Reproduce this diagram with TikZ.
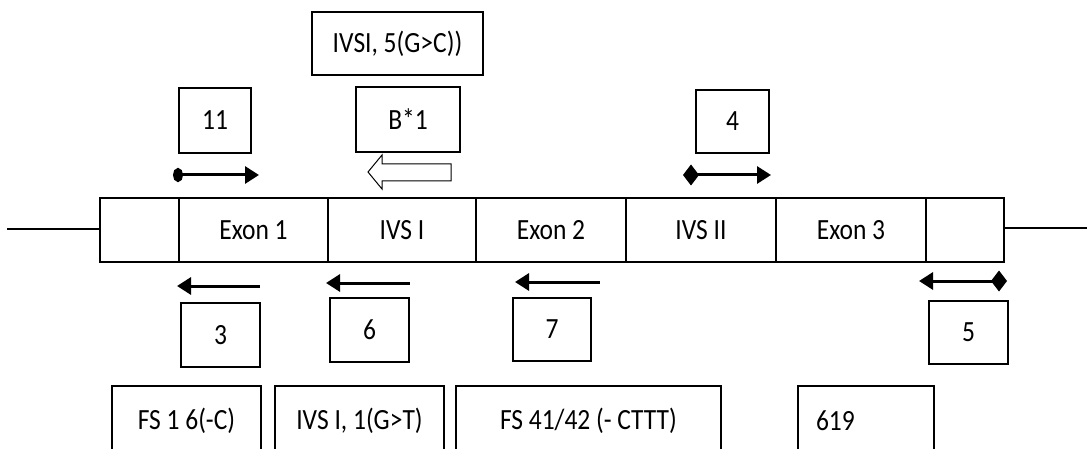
\documentclass[tikz,border=0pt]{standalone}
\usepackage{fontspec}
\setmainfont{Carlito}
\usetikzlibrary{arrows.meta}
\newcommand\lbfont{\fontsize{25.5}{30}\selectfont}
\newcommand\TT[1]{\scalebox{1}[1.15]{#1}}
\tikzset{
  boxn/.style={draw, line width=1.7pt, inner sep=0pt, font=\lbfont},
  seg/.style={draw, line width=1.9pt, inner sep=0pt, minimum height=64pt, font=\lbfont},
  arr/.style={line width=3pt},
}
\begin{document}
\begin{tikzpicture}[x=1pt,y=-1pt]
\useasboundingbox (0,0) rectangle (1087,449);
\clip (0,0) rectangle (1087,449);
% band segments
\node[seg, minimum width=79pt]  (s0) at (139.5,230) {};
\node[seg, minimum width=149pt] (e1) at (253.5,230) {\TT{Exon 1}};
\node[seg, minimum width=148pt] (i1) at (402,230) {\TT{IVS I}};
\node[seg, minimum width=150pt] (e2) at (551,230) {\TT{Exon 2}};
\node[seg, minimum width=150pt] (i2) at (701,230) {\TT{IVS II}};
\node[seg, minimum width=150pt] (e3) at (851,230) {\TT{Exon 3}};
\node[seg, minimum width=78pt]  (s6) at (965,230) {};
\coordinate (lend) at (7,229);
\coordinate (rend) at (1087,228);
\draw[line width=1.5pt] (lend) -- (lend -| s0.west);
\draw[line width=1.5pt] (rend -| s6.east) -- (rend);
% top boxes
\node[boxn, minimum width=171pt, minimum height=63pt] (tivs) at (397.5,43.5) {\TT{IVSI, 5(G>C))}};
\node[boxn, minimum width=72pt, minimum height=65pt] (b11) at (215,120.5) {\TT{11}};
\node[boxn, minimum width=104pt, minimum height=65pt] (bB) at (408,119.5) {\TT{B*1}};
\node[boxn, minimum width=73pt, minimum height=63pt] (b4) at (732.5,121.5) {\TT{4}};
% top arrows
\coordinate (a11s) at (173,175); \coordinate (a11e) at (259,175);
\draw[arr, {Ellipse[length=10pt,width=14pt]}-{Triangle[length=14pt,width=17pt]}] (a11s) -- (a11e);
\coordinate (a4s) at (683,175); \coordinate (a4e) at (771,175);
\draw[arr, {Diamond[length=16pt,width=21pt]}-{Triangle[length=14pt,width=17pt]}] (a4s) -- (a4e);
% hollow arrow
\draw[line width=1pt, fill=white] (451,164) -- (382,164) -- (382,155) -- (368,172) -- (382,189) -- (382,181) -- (451,181) -- cycle;
% bottom arrows
\coordinate (a3s) at (260,286); \coordinate (a3e) at (177,286);
\draw[arr, -{Triangle[length=14pt,width=17pt]}] (a3s) -- (a3e);
\coordinate (a6s) at (410,283); \coordinate (a6e) at (326,283);
\draw[arr, -{Triangle[length=14pt,width=17pt]}] (a6s) -- (a6e);
\coordinate (a7s) at (600,282); \coordinate (a7e) at (515,282);
\draw[arr, -{Triangle[length=14pt,width=17pt]}] (a7s) -- (a7e);
\coordinate (a5s) at (1007,281); \coordinate (a5e) at (919,281);
\draw[arr, {Diamond[length=16pt,width=21pt]}-{Triangle[length=14pt,width=17pt]}] (a5s) -- (a5e);
% bottom number boxes
\node[boxn, minimum width=79pt, minimum height=64pt] (b3) at (220.5,335) {\TT{3}};
\node[boxn, minimum width=79pt, minimum height=64pt] (b6) at (369.5,330) {\TT{6}};
\node[boxn, minimum width=78pt, minimum height=63pt] (b7) at (552,329.5) {\TT{7}};
\node[boxn, minimum width=79pt, minimum height=63pt] (b5) at (968.5,332.5) {\TT{5}};
% mutation boxes (cut by the lower edge)
\node[boxn, minimum width=149pt, minimum height=70pt] (m1) at (186.5,421) {\raisebox{-3pt}{\TT{FS 1 6(-C)}}};
\node[boxn, minimum width=169pt, minimum height=70pt] (m2) at (359.5,421) {\raisebox{-3pt}{\TT{IVS I, 1(G>T)}}};
\node[boxn, minimum width=265pt, minimum height=70pt] (m3) at (588.5,421) {\raisebox{-3pt}{\TT{FS 41/42 (- CTTT)}}};
\node[boxn, minimum width=136pt, minimum height=70pt, text width=100pt, align=left, inner xsep=18pt] (m4) at (866,421) {\raisebox{-3pt}{\TT{619}}};
\end{tikzpicture}
\end{document}
